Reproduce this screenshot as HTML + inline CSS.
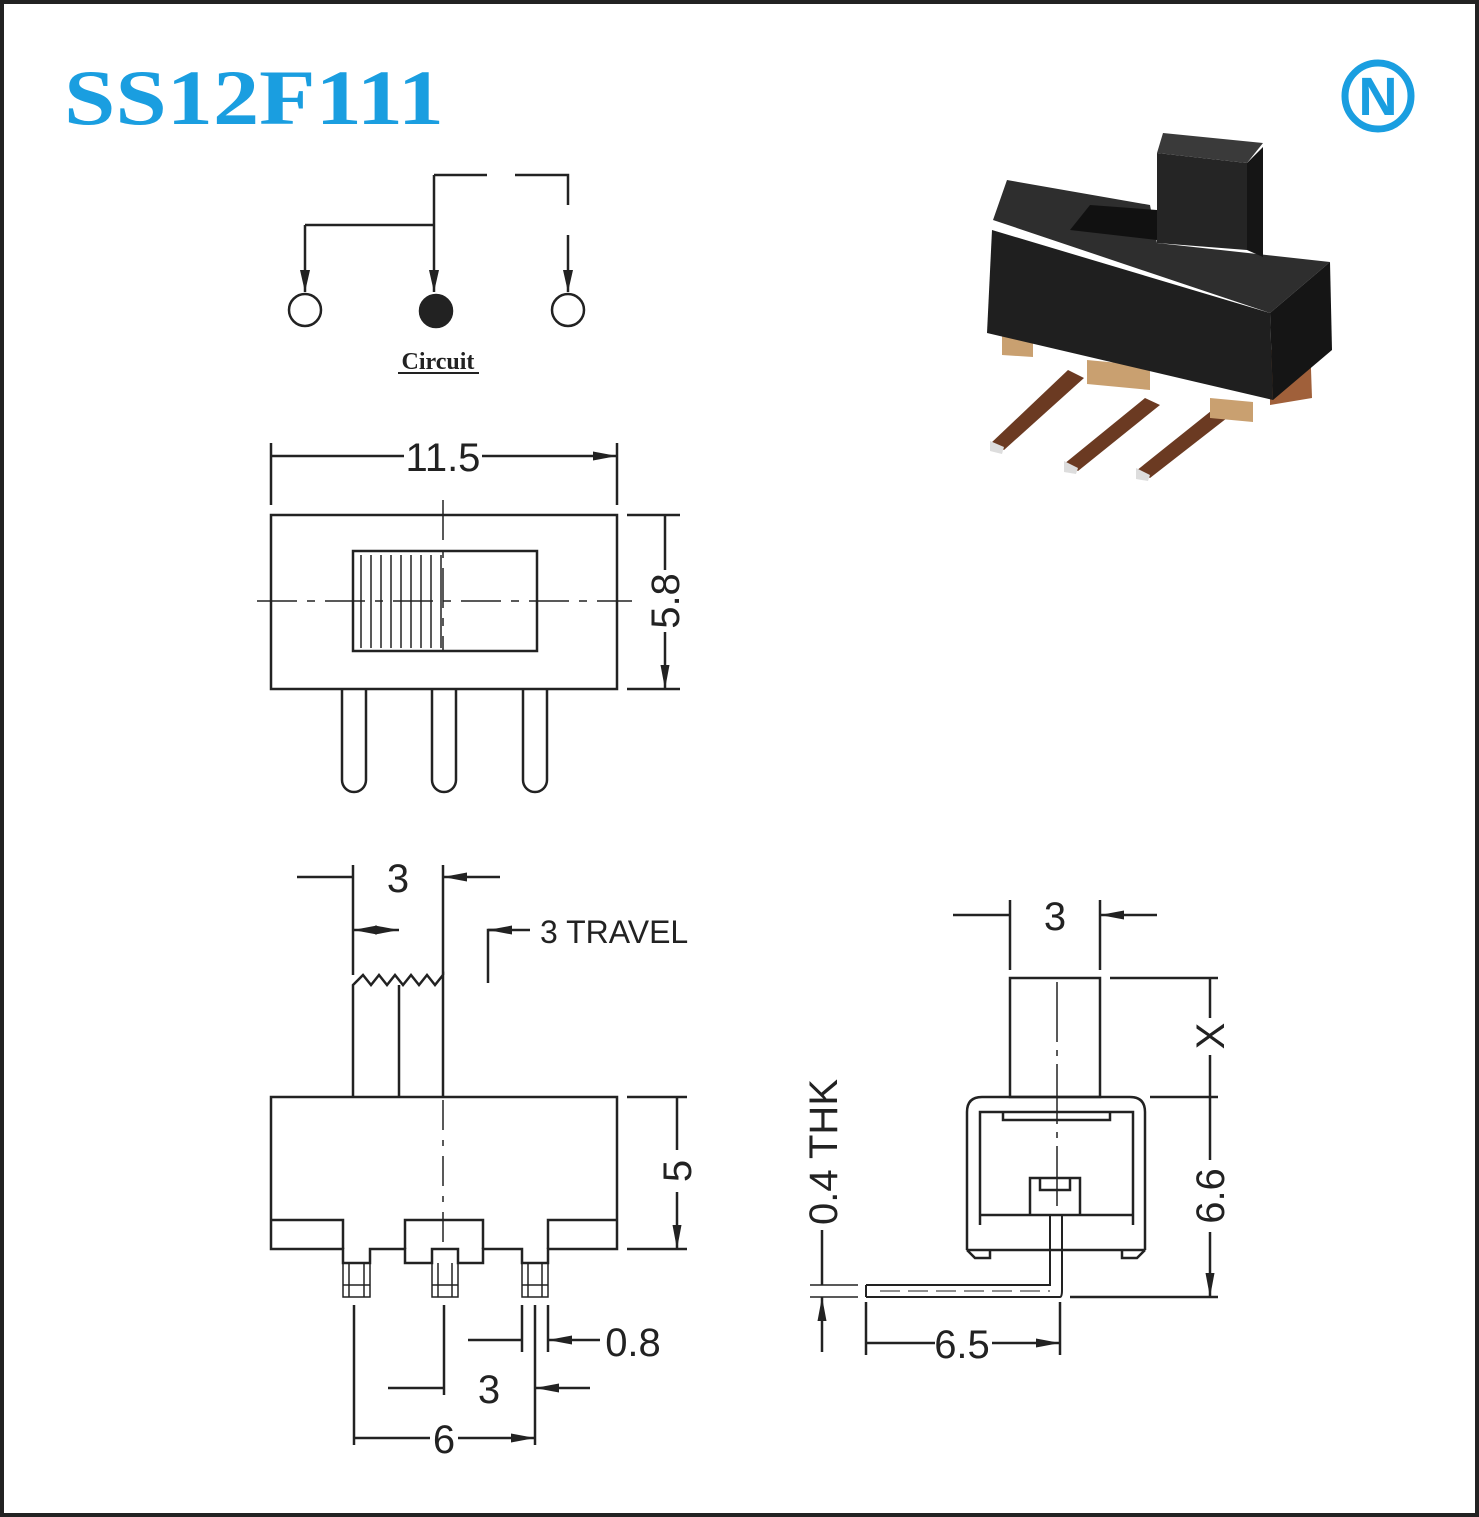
<!DOCTYPE html>
<html><head><meta charset="utf-8"><style>
html,body{margin:0;padding:0;background:#fff}
svg{display:block}
text{font-family:"Liberation Serif",serif;font-weight:bold;fill:#222}
.d{font-family:"Liberation Sans Narrow","Liberation Sans",sans-serif;font-weight:normal}
</style></head><body>
<svg width="1479" height="1517" viewBox="0 0 1479 1517" xmlns="http://www.w3.org/2000/svg">
<defs>
<marker id="a" viewBox="0 0 10 10" refX="10" refY="5" markerWidth="24" markerHeight="9" orient="auto-start-reverse" markerUnits="userSpaceOnUse" preserveAspectRatio="none"><path d="M0,0 L10,5 L0,10 z" fill="#222"/></marker>
<marker id="b" viewBox="0 0 10 10" refX="10" refY="5" markerWidth="22" markerHeight="10" orient="auto-start-reverse" markerUnits="userSpaceOnUse" preserveAspectRatio="none"><path d="M0,0 L10,5 L0,10 z" fill="#222"/></marker>
</defs>
<rect x="2" y="2" width="1475" height="1513" fill="#fff" stroke="#222" stroke-width="4"/>
<text x="64" y="124" font-size="78" style="fill:#1a9ee0" textLength="380" lengthAdjust="spacingAndGlyphs">SS12F111</text>
<circle cx="1378" cy="96" r="33" fill="#fff" stroke="#1a9ee0" stroke-width="7"/>
<text x="1378" y="115" font-size="54" text-anchor="middle" style="fill:#1a9ee0;font-family:'Liberation Sans',sans-serif">N</text>

<!-- photo -->
<g>
<polygon points="1068,370 1084,378 1004,450 990,444" fill="#6b3a22"/>
<polygon points="1145,398 1160,405 1078,471 1064,464" fill="#6b3a22"/>
<polygon points="1211,411 1227,418 1150,478 1136,471" fill="#6b3a22"/>
<polygon points="990,441 1004,447 1002,454 990,451" fill="#ddd"/>
<polygon points="1064,461 1078,468 1076,474 1064,472" fill="#ddd"/>
<polygon points="1136,468 1150,475 1148,481 1136,479" fill="#ddd"/>
<polygon points="1002,333 1033,336 1033,357 1002,355" fill="#c9a070"/>
<polygon points="1087,360 1150,366 1150,390 1087,384" fill="#c9a070"/>
<polygon points="1210,398 1253,402 1253,422 1210,418" fill="#c9a070"/>
<polygon points="1270,350 1310,340 1312,398 1270,405" fill="#a0603a"/>
<polygon points="993,220 1007,180 1150,205 1157,243 1330,262 1270,313" fill="#2e2e2e"/>
<polygon points="1070,230 1090,205 1157,210 1157,240" fill="#111"/>
<polygon points="992,230 1270,313 1273,400 987,333" fill="#1f1f1f"/>
<polygon points="1270,313 1330,262 1332,350 1273,400" fill="#151515"/>
<polygon points="1157,153 1247,163 1247,250 1157,243" fill="#252525"/>
<polygon points="1247,163 1263,147 1263,257 1247,250" fill="#151515"/>
<polygon points="1157,153 1163,133 1263,143 1247,163" fill="#3a3a3a"/>
</g>

<g fill="none" stroke="#222" stroke-width="2.5">
<!-- circuit -->
<path d="M434,175 H487 M515,175 H568 V205 M305,225 H434"/>
<path d="M568,235 V292" marker-end="url(#b)"/>
<path d="M434,175 V292" marker-end="url(#b)"/>
<path d="M305,225 V292" marker-end="url(#b)"/>
<circle cx="305" cy="310" r="16"/>
<circle cx="568" cy="310" r="16"/>
<circle cx="436" cy="311" r="16" fill="#222"/>
<path d="M398,373 H479" stroke-width="2"/>

<!-- top view -->
<rect x="271" y="515" width="346" height="174"/>
<rect x="353" y="551" width="184" height="100"/>
<path d="M361,555V648 M371,555V648 M381,555V648 M391,555V648 M401,555V648 M411,555V648 M421,555V648 M431,555V648 M441,555V648" stroke-width="1.5"/>
<path d="M257,601 H632" stroke-dasharray="40,10,8,10" stroke-width="1.5"/>
<path d="M443,500 V651" stroke-dasharray="40,10,8,10" stroke-width="1.5"/>
<path d="M342,689 V780 A12,12 0 0 0 366,780 V689 M432,689 V780 A12,12 0 0 0 456,780 V689 M523,689 V780 A12,12 0 0 0 547,780 V689"/>
<path d="M271,443 V505 M617,443 V505"/>
<path d="M404,456 H271 M482,456 H617" marker-end="url(#a)"/>
<path d="M627,515 H680 M627,689 H680"/>
<path d="M665,570 V515 M665,632 V689" marker-end="url(#a)"/>

<!-- side view -->
<path d="M271,1097 H617 V1249 H548 V1263 H522 V1249 H483 V1263 H458 V1249 H432 V1263 H405 V1249 H370 V1263 H343 V1249 H271 Z"/>
<path d="M271,1220 H343 V1249 M405,1249 V1220 H483 V1249 M548,1249 V1220 H617"/>
<path d="M343,1263 V1297 H370 V1263 M432,1263 V1297 H458 V1263 M522,1263 V1297 H548 V1263 M349,1263V1297 M364,1263V1297 M438,1263V1297 M452,1263V1297 M528,1263V1297 M542,1263V1297" stroke-width="1.5"/>
<path d="M343,1285 H370 M432,1285 H458 M522,1285 H548" stroke-width="1.5"/>
<path d="M353,1097 V985 L363,975 L371,985 L379,975 L387,985 L395,975 L403,985 L411,975 L419,985 L427,975 L435,985 L443,975 V1097 M399,985 V1097"/>
<path d="M443,1100 V1250" stroke-dasharray="30,10,6,10" stroke-width="1.5"/>
<path d="M353,865 V975 M443,865 V975"/>
<path d="M297,877 H353 M500,877 H443" marker-end="url(#a)"/>
<path d="M353,930 H399" marker-start="url(#a)" marker-end="url(#a)"/>
<path d="M488,983 V930 H500"/>
<path d="M530,930 H488" marker-end="url(#a)"/>
<path d="M627,1097 H687 M627,1249 H687"/>
<path d="M677,1150 V1097 M677,1192 V1249" marker-end="url(#a)"/>
<path d="M354,1305 V1445 M444,1305 V1395 M535,1305 V1445 M522,1305 V1352 M548,1305 V1352"/>
<path d="M468,1340 H522 M600,1340 H548" marker-end="url(#a)"/>
<path d="M388,1388 H444 M590,1388 H535" marker-end="url(#a)"/>
<path d="M430,1438 H354 M458,1438 H535" marker-end="url(#a)"/>

<!-- right view -->
<rect x="1010" y="978" width="90" height="119"/>
<path d="M1057,982 V1215" stroke-dasharray="60,8,6,8" stroke-width="1.5"/>
<path d="M967,1250 V1112 Q967,1097 982,1097 H1130 Q1145,1097 1145,1112 V1250"/>
<path d="M980,1225 V1112 H1133 V1225 M980,1215 H1133 M967,1250 L975,1258 H990 L990,1250 M1145,1250 L1137,1258 H1122 L1122,1250 M967,1250 H1145 M1003,1112 V1120 H1110 V1112"/>
<path d="M1030,1215 V1178 H1080 V1215 M1040,1178 V1190 H1070 V1178"/>
<path d="M866,1285 H1050 V1215 M866,1297 H1060 Q1062,1297 1062,1290 V1215 M866,1285 V1297" stroke-width="2"/>
<path d="M880,1291 H1050" stroke-dasharray="20,8" stroke-width="1"/>
<path d="M1010,900 V970 M1100,900 V970"/>
<path d="M953,915 H1010 M1157,915 H1100" marker-end="url(#a)"/>
<path d="M1110,978 H1218 M1150,1097 H1218 M1070,1297 H1218"/>
<path d="M1210,1018 V978 M1210,1055 V1097 M1210,1160 V1097 M1210,1232 V1297" marker-end="url(#a)"/>
<path d="M866,1302 V1355 M1060,1302 V1355"/>
<path d="M935,1343 H866 M992,1343 H1060" marker-end="url(#a)"/>
<path d="M810,1285 H858 M810,1297 H858" stroke-width="1.5"/>
<path d="M822,1230 V1285 M822,1352 V1297" marker-end="url(#a)"/>
</g>

<g font-size="40" class="d">
<text x="438" y="369" font-size="24" text-anchor="middle" style="font-family:'Liberation Serif',serif;font-weight:bold">Circuit</text>
<text x="443" y="471" text-anchor="middle" class="d">11.5</text>
<text transform="translate(679,601) rotate(-90)" text-anchor="middle" class="d">5.8</text>
<text x="398" y="892" text-anchor="middle" class="d">3</text>
<text x="540" y="943" font-size="32" class="d">3 TRAVEL</text>
<text transform="translate(691,1171) rotate(-90)" text-anchor="middle" class="d">5</text>
<text x="633" y="1356" text-anchor="middle" class="d">0.8</text>
<text x="489" y="1403" text-anchor="middle" class="d">3</text>
<text x="444" y="1453" text-anchor="middle" class="d">6</text>
<text x="1055" y="930" text-anchor="middle" class="d">3</text>
<text transform="translate(1224,1036) rotate(-90)" text-anchor="middle" class="d">X</text>
<text transform="translate(1224,1196) rotate(-90)" text-anchor="middle" class="d">6.6</text>
<text x="962" y="1358" text-anchor="middle" class="d">6.5</text>
<text transform="translate(837,1152) rotate(-90)" text-anchor="middle" class="d">0.4 THK</text>
</g>
</svg>
</body></html>
